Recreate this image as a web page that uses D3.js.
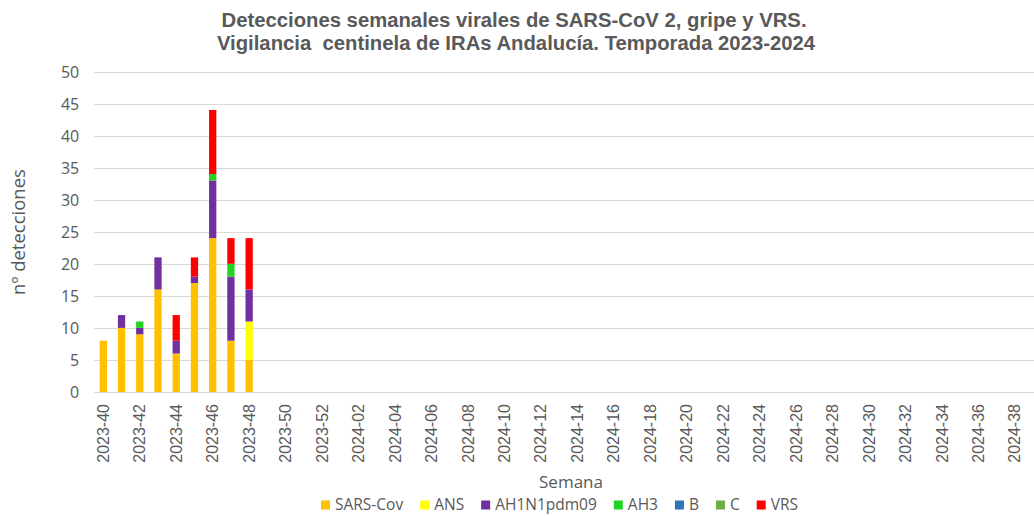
<!DOCTYPE html>
<html>
<head>
<meta charset="utf-8">
<script src="https://cdn.jsdelivr.net/npm/d3@7"></script>
<style>
  body { margin: 0; background: #fff; }
  svg { display: block; }
  .title { font-family: "Liberation Sans", Arial, sans-serif; font-weight: bold; fill: #595959; white-space: pre; }
  .y.axis text { font-family: "Open Sans", sans-serif; font-size: 16px; fill: #595959; }
  .x.axis text { font-family: "Liberation Sans", Arial, sans-serif; font-size: 16px; fill: #595959; }
  .axis-title { font-family: "Open Sans", sans-serif; fill: #595959; }
  .legend text { font-family: "Open Sans", sans-serif; font-size: 15.5px; fill: #595959; }
</style>
</head>
<body>
<div id="chart"></div>
<script>
// weeks of the season (categories)
const weeks = [
  "2023-40","2023-41","2023-42","2023-43","2023-44","2023-45","2023-46","2023-47","2023-48",
  "2023-49","2023-50","2023-51","2023-52",
  "2024-01","2024-02","2024-03","2024-04","2024-05","2024-06","2024-07","2024-08","2024-09",
  "2024-10","2024-11","2024-12","2024-13","2024-14","2024-15","2024-16","2024-17","2024-18",
  "2024-19","2024-20","2024-21","2024-22","2024-23","2024-24","2024-25","2024-26","2024-27",
  "2024-28","2024-29","2024-30","2024-31","2024-32","2024-33","2024-34","2024-35","2024-36",
  "2024-37","2024-38","2024-39"
];

// weeks with detections so far (2023-40 .. 2023-48)
const sarsCov   = [8, 10, 9, 16, 6, 17, 24, 8, 5];
const ans       = [0, 0, 0, 0, 0, 0, 0, 0, 6];
const ah1n1     = [0, 2, 1, 5, 2, 1, 9, 10, 5];
const ah3       = [0, 0, 1, 0, 0, 0, 1, 2, 0];
const fluB      = [0, 0, 0, 0, 0, 0, 0, 0, 0];
const fluC      = [0, 0, 0, 0, 0, 0, 0, 0, 0];
const vrs       = [0, 0, 0, 0, 4, 3, 10, 4, 8];

const seriesNames = ["SARS-Cov", "ANS", "AH1N1pdm09", "AH3", "B", "C", "VRS"];
const seriesColors = ["#FFC000", "#FFFF00", "#7030A0", "#22D322", "#2E75B6", "#70AD47", "#FF0000"];
const yTicks = [0, 5, 10, 15, 20, 25, 30, 35, 40, 45, 50];

const W = 1034, H = 516;
const margin = { top: 71.5, left: 94.2, bottom: 124 };
const step = 18.23;
const plotW = weeks.length * step;
const plotBottom = 392;

const svg = d3.select("#chart").append("svg")
    .attr("width", W)
    .attr("height", H);

// build rows for the stack
const seriesData = [sarsCov, ans, ah1n1, ah3, fluB, fluC, vrs];
const rows = sarsCov.map((_, i) => {
    const row = { week: weeks[i] };
    seriesNames.forEach((n, k) => row[n] = seriesData[k][i]);
    return row;
});

const x = d3.scaleBand()
    .domain(weeks)
    .range([margin.left, margin.left + plotW])
    .paddingInner(0.6)
    .paddingOuter(0.3);

const y = d3.scaleLinear().domain([0, 50]).range([plotBottom, margin.top]);

// gridlines
svg.append("g")
    .selectAll("line")
    .data(yTicks)
    .join("line")
    .attr("x1", margin.left)
    .attr("x2", margin.left + plotW)
    .attr("y1", d => Math.round(y(d)) + 0.5)
    .attr("y2", d => Math.round(y(d)) + 0.5)
    .attr("stroke", "#D9D9D9")
    .attr("stroke-width", 1);

// y axis labels
const yAxis = svg.append("g")
    .attr("class", "y axis")
    .attr("transform", `translate(${margin.left - 15},0)`)
    .call(d3.axisLeft(y).tickValues(yTicks).tickSize(0).tickPadding(0));
yAxis.select(".domain").remove();
yAxis.selectAll("text").attr("dy", "0.35em");

// x axis labels (every second week)
const xAxis = svg.append("g")
    .attr("class", "x axis")
    .attr("transform", `translate(0,${plotBottom})`)
    .call(d3.axisBottom(x).tickValues(weeks.filter((_, i) => i % 2 === 0)).tickSize(0));
xAxis.select(".domain").remove();
xAxis.selectAll("text")
    .attr("transform", "rotate(-90)")
    .attr("text-anchor", "end")
    .attr("x", -12)
    .attr("y", 0)
    .attr("dy", "0.35em");

// stacked bars
const stack = d3.stack().keys(seriesNames)(rows);
svg.append("g")
    .selectAll("g")
    .data(stack)
    .join("g")
    .attr("fill", (d, i) => seriesColors[i])
    .selectAll("rect")
    .data(d => d.filter(p => p[1] > p[0]))
    .join("rect")
    .attr("x", d => x(d.data.week))
    .attr("width", x.bandwidth())
    .attr("y", d => y(d[1]))
    .attr("height", d => y(d[0]) - y(d[1]));

// title
const title = svg.append("text")
    .attr("class", "title")
    .attr("text-anchor", "middle")
    .style("font-size", "20.3px");
title.append("tspan").attr("x", 514).attr("y", 27)
    .text("Detecciones semanales virales de SARS-CoV 2, gripe y VRS.");
title.append("tspan").attr("x", 516).attr("y", 50)
    .text("Vigilancia  centinela de IRAs Andalucía. Temporada 2023-2024");

// axis titles
svg.append("text")
    .attr("class", "axis-title")
    .attr("x", 571)
    .attr("y", 488)
    .attr("text-anchor", "middle")
    .style("font-size", "17px")
    .text("Semana");

svg.append("text")
    .attr("class", "axis-title")
    .attr("transform", "translate(25,232) rotate(-90)")
    .attr("text-anchor", "middle")
    .style("font-size", "18.5px")
    .text("nº detecciones");

// legend
const legend = svg.append("g").attr("class", "legend");
const items = legend.selectAll("g")
    .data(seriesNames)
    .join("g");
items.append("rect")
    .attr("width", 9)
    .attr("height", 9)
    .attr("y", -4.5)
    .attr("fill", (d, i) => seriesColors[i]);
items.append("text")
    .attr("x", 14)
    .attr("dy", "0.35em")
    .text(d => d);

let lx = 0;
items.each(function () {
    d3.select(this).attr("transform", `translate(${lx},0)`);
    lx += 14 + d3.select(this).select("text").node().getComputedTextLength() + 17;
});
const legendW = lx - 17;
legend.attr("transform", `translate(${559.5 - legendW / 2},505)`);
</script>
</body>
</html>
